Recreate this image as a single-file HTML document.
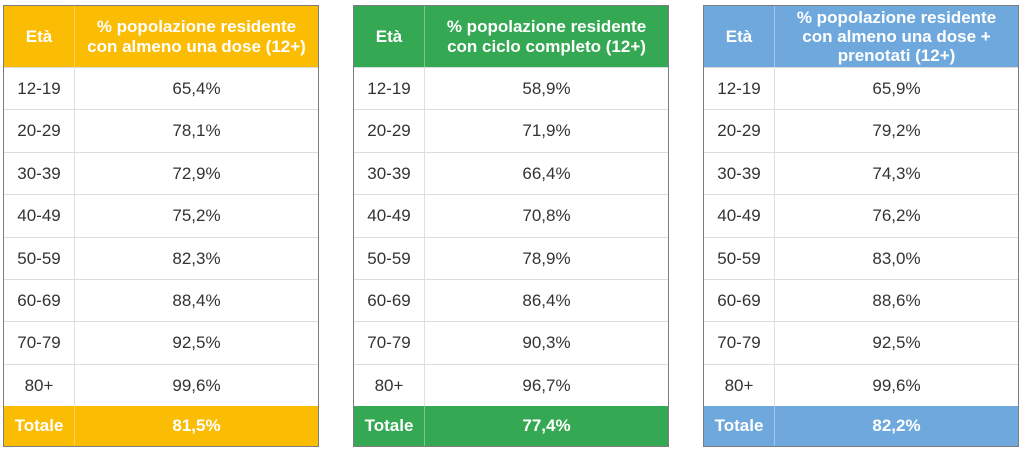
<!DOCTYPE html>
<html>
<head>
<meta charset="utf-8">
<style>
html,body{margin:0;padding:0;background:#fff;}
body{width:1024px;height:453px;position:relative;overflow:hidden;font-family:"Liberation Sans",Arial,sans-serif;}
.t{position:absolute;top:5px;width:316px;height:442px;border:1px solid #7d7d7d;box-sizing:border-box;background:#fff;}
.h{position:absolute;left:0;top:0;width:314px;height:61px;color:#fff;font-weight:bold;font-size:17px;}
.h .a{position:absolute;left:0;top:0;width:70px;height:61px;display:flex;align-items:center;justify-content:center;}
.h .b{position:absolute;left:71px;top:0;width:243px;height:61px;display:flex;align-items:center;justify-content:center;text-align:center;line-height:20px;}
.div{position:absolute;left:70px;top:0;width:1px;height:440px;background:#e0e0e0;}
.hd{position:absolute;left:70px;top:0;width:1px;height:61px;background:rgba(255,255,255,0.35);}
.r{position:absolute;left:0;width:314px;height:42px;border-top:1px solid #dcdcdc;font-size:17px;color:#333;}
.r .a{position:absolute;left:0;top:0;width:70px;height:42px;display:flex;align-items:center;justify-content:center;}
.r .b{position:absolute;left:71px;top:0;width:243px;height:42px;display:flex;align-items:center;justify-content:center;}
.tot{position:absolute;left:0;top:400px;width:314px;height:40px;color:#fff;font-weight:bold;font-size:17px;}
.tot .a{position:absolute;left:0;top:0;width:70px;height:40px;display:flex;align-items:center;justify-content:center;}
.tot .b{position:absolute;left:71px;top:0;width:243px;height:40px;display:flex;align-items:center;justify-content:center;}
.td{position:absolute;left:70px;top:0;width:1px;height:40px;background:rgba(255,255,255,0.35);}
.y{background:#fbbc04;}
.g{background:#34a853;}
.bl{background:#6fa8dc;}
</style>
</head>
<body>

<!-- Table 1 -->
<div class="t" style="left:3px;">
  <div class="div"></div>
  <div class="h y"><div class="a">Età</div><div class="b">% popolazione residente<br>con almeno una dose (12+)</div><div class="hd"></div></div>
  <div class="r" style="top:61px;"><div class="a">12-19</div><div class="b">65,4%</div></div>
  <div class="r" style="top:103.4px;"><div class="a">20-29</div><div class="b">78,1%</div></div>
  <div class="r" style="top:145.8px;"><div class="a">30-39</div><div class="b">72,9%</div></div>
  <div class="r" style="top:188.2px;"><div class="a">40-49</div><div class="b">75,2%</div></div>
  <div class="r" style="top:230.6px;"><div class="a">50-59</div><div class="b">82,3%</div></div>
  <div class="r" style="top:273px;"><div class="a">60-69</div><div class="b">88,4%</div></div>
  <div class="r" style="top:315.4px;"><div class="a">70-79</div><div class="b">92,5%</div></div>
  <div class="r" style="top:357.8px;"><div class="a">80+</div><div class="b">99,6%</div></div>
  <div class="tot y"><div class="a">Totale</div><div class="b">81,5%</div><div class="td"></div></div>
</div>

<!-- Table 2 -->
<div class="t" style="left:353px;">
  <div class="div"></div>
  <div class="h g"><div class="a">Età</div><div class="b">% popolazione residente<br>con ciclo completo (12+)</div><div class="hd"></div></div>
  <div class="r" style="top:61px;"><div class="a">12-19</div><div class="b">58,9%</div></div>
  <div class="r" style="top:103.4px;"><div class="a">20-29</div><div class="b">71,9%</div></div>
  <div class="r" style="top:145.8px;"><div class="a">30-39</div><div class="b">66,4%</div></div>
  <div class="r" style="top:188.2px;"><div class="a">40-49</div><div class="b">70,8%</div></div>
  <div class="r" style="top:230.6px;"><div class="a">50-59</div><div class="b">78,9%</div></div>
  <div class="r" style="top:273px;"><div class="a">60-69</div><div class="b">86,4%</div></div>
  <div class="r" style="top:315.4px;"><div class="a">70-79</div><div class="b">90,3%</div></div>
  <div class="r" style="top:357.8px;"><div class="a">80+</div><div class="b">96,7%</div></div>
  <div class="tot g"><div class="a">Totale</div><div class="b">77,4%</div><div class="td"></div></div>
</div>

<!-- Table 3 -->
<div class="t" style="left:703px;">
  <div class="div"></div>
  <div class="h bl"><div class="a">Età</div><div class="b" style="line-height:19px;">% popolazione residente<br>con almeno una dose +<br>prenotati (12+)</div><div class="hd"></div></div>
  <div class="r" style="top:61px;"><div class="a">12-19</div><div class="b">65,9%</div></div>
  <div class="r" style="top:103.4px;"><div class="a">20-29</div><div class="b">79,2%</div></div>
  <div class="r" style="top:145.8px;"><div class="a">30-39</div><div class="b">74,3%</div></div>
  <div class="r" style="top:188.2px;"><div class="a">40-49</div><div class="b">76,2%</div></div>
  <div class="r" style="top:230.6px;"><div class="a">50-59</div><div class="b">83,0%</div></div>
  <div class="r" style="top:273px;"><div class="a">60-69</div><div class="b">88,6%</div></div>
  <div class="r" style="top:315.4px;"><div class="a">70-79</div><div class="b">92,5%</div></div>
  <div class="r" style="top:357.8px;"><div class="a">80+</div><div class="b">99,6%</div></div>
  <div class="tot bl"><div class="a">Totale</div><div class="b">82,2%</div><div class="td"></div></div>
</div>

</body>
</html>
